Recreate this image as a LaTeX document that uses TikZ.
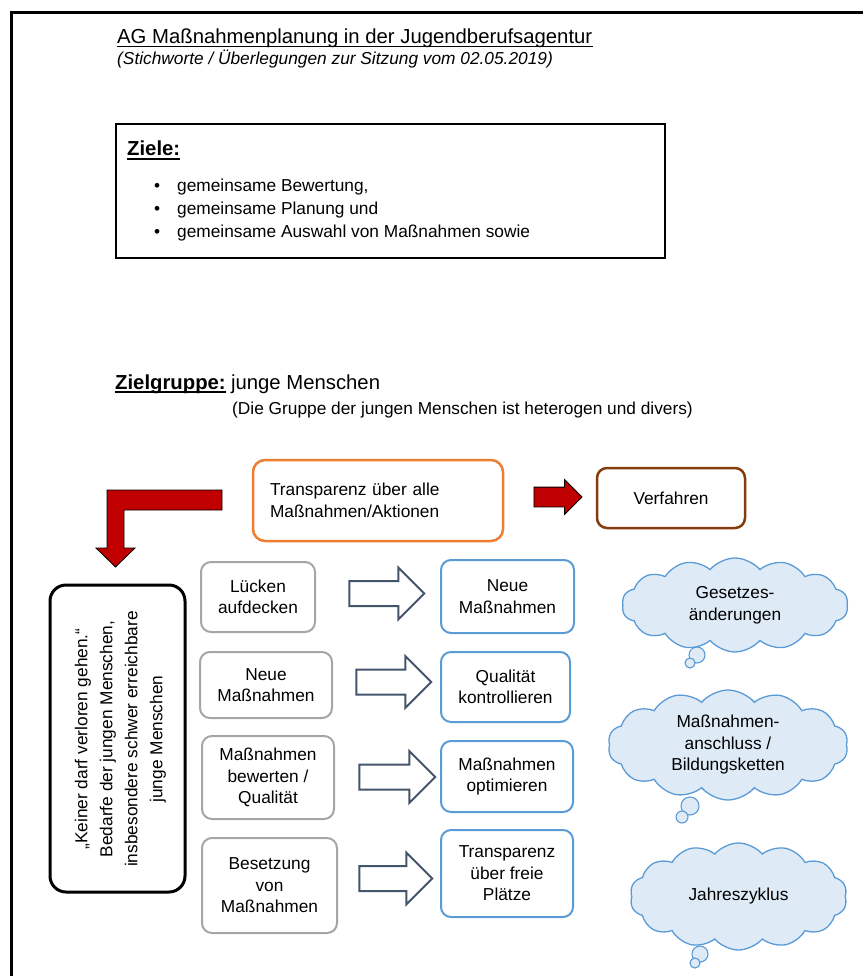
\documentclass[tikz,border=0pt]{standalone}
\usepackage{fontspec}
\setmainfont{Liberation Sans}
\usetikzlibrary{shapes.arrows,shapes.symbols,calc}

\definecolor{orangeline}{RGB}{237,125,49}
\definecolor{brownline}{RGB}{133,60,12}
\definecolor{greyline}{RGB}{165,165,165}
\definecolor{blueline}{RGB}{91,155,213}
\definecolor{cloudfill}{RGB}{222,235,247}
\definecolor{arrowred}{RGB}{192,0,0}
\definecolor{slate}{RGB}{68,84,106}

\newcommand{\txt}{\fontsize{17.3}{21.5}\selectfont}
\newcommand{\bigtxt}{\fontsize{20.3}{24}\selectfont}

\begin{document}
\begin{tikzpicture}[x=1pt, y=-1pt, every node/.style={inner sep=0pt, font=\txt},
    box/.style={draw, rounded corners=10pt, align=center, line width=2pt},
    greybox/.style={box, draw=greyline},
    bluebox/.style={box, draw=blueline},
    hollow/.style={single arrow, draw=slate, fill=white, line width=2pt, inner xsep=0pt, inner ysep=11.5pt,
        single arrow head extend=13.5pt, single arrow tip angle=90, minimum height=75pt},
    redarrow/.style={single arrow, draw=black, fill=arrowred, line width=0.8pt, inner xsep=0pt, inner ysep=9.5pt,
        single arrow head extend=7.5pt, single arrow tip angle=90, minimum height=48pt},
    thought/.style={cloud, cloud puffs=14, cloud puff arc=100, cloud ignores aspect, draw=blueline,
        fill=cloudfill, line width=1.3pt, align=center},
    bubble/.style={draw=blueline, fill=cloudfill, line width=1.1pt}]
    \useasboundingbox (0,0) rectangle (863,976);

    % 1. Rahmen
    \draw[line width=3pt] (863,12.5) -- (11.3,12.5) -- (11.3,976);

    % 2. Kopf
    \node[anchor=base west, font=\bigtxt] (title) at (117,44) {AG Maßnahmenplanung in der Jugendberufsagentur};
    \draw[line width=1.2pt] ($(title.base west)+(0,2.5)$) -- ($(title.base east)+(0,2.5)$);
    \node[anchor=base west, font=\txt\itshape] (sub) at (117,65) {(Stichworte / Überlegungen zur Sitzung vom 02.05.2019)};

    % 3. Ziele
    \node[draw, line width=1.3pt, minimum width=549pt, minimum height=134pt] (zielbox) at (390.5,191) {};
    \node[anchor=base west, font=\bigtxt\bfseries] (ziele) at (127,156) {Ziele:};
    \draw[line width=2pt] ($(ziele.base west)+(0,3)$) -- ($(ziele.base east)+(0,3)$);
    \node[anchor=base west] (z1) at (154,192) {\makebox[23pt][l]{\textbullet}gemeinsame Bewertung,};
    \node[anchor=base west] (z2) at (154,214.5) {\makebox[23pt][l]{\textbullet}gemeinsame Planung und};
    \node[anchor=base west] (z3) at (154,237) {\makebox[23pt][l]{\textbullet}gemeinsame Auswahl von Maßnahmen sowie};

    % 4. Zielgruppe
    \node[anchor=base west, font=\bigtxt\bfseries] (zg) at (115,389) {Zielgruppe:};
    \draw[line width=2pt] ($(zg.base west)+(0,3)$) -- ($(zg.base east)+(0,3)$);
    \node[anchor=base west, font=\bigtxt] (zgtext) at ($(zg.base east)+(5,0)$) {junge Menschen};
    \node[anchor=base west] (zgnote) at (232,414) {(Die Gruppe der jungen Menschen ist heterogen und divers)};

    % 5. Transparenz, Verfahren
    \node[box, draw=orangeline, line width=2.5pt, rounded corners=12pt, align=left, text width=216pt,
        inner xsep=17pt, minimum height=81pt] (trans) at (378,500.5) {Transparenz über alle\\Maßnahmen/Aktionen};
    \node[redarrow] (rarr) at (553,497) {};
    \node[box, draw=brownline, line width=2.5pt, minimum width=148pt, minimum height=60pt] (verf) at (671,498) {Verfahren};

    % 6. gebogener Pfeil
    \coordinate (bendA) at (222,490);
    \coordinate (bendB) at (107,490);
    \coordinate (bendC) at (124,510);
    \coordinate (bendTip) at (115.5,567);
    \draw[fill=arrowred, line width=0.8pt] (bendA) -- (bendB) -- (bendB |- 0,548) -- (96,548) -- (bendTip)
        -- (135,548) -- (bendC |- 0,548) -- (bendC) -- (bendA |- bendC) -- cycle;

    % 7. Leitsatz
    \node[draw, line width=3pt, rounded corners=16pt, minimum width=135pt, minimum height=307pt] (kb) at (117.5,738.5) {};
    \node[rotate=90, align=center, font=\fontsize{17.3}{25}\selectfont] (kbtext) at (120.5,739)
        {„Keiner darf verloren gehen.“\\Bedarfe der jungen Menschen,\\insbesondere schwer erreichbare\\junge Menschen};

    % 8. Zeilen
    \node[greybox, minimum width=114pt, minimum height=70pt] (g1) at (258,597) {Lücken\\aufdecken};
    \node[hollow] (p1) at (380.5,593.5) {};
    \node[bluebox, minimum width=133pt, minimum height=73pt] (b1) at (507.5,596.5) {Neue\\Maßnahmen};

    \node[greybox, minimum width=132pt, minimum height=66pt] (g2) at (266,685) {Neue\\Maßnahmen};
    \node[hollow] (p2) at (387.5,682) {};
    \node[bluebox, minimum width=129pt, minimum height=70pt] (b2) at (505.5,687) {Qualität\\kontrollieren};

    \node[greybox, minimum width=132pt, minimum height=83pt] (g3) at (268,777.5) {Maßnahmen\\bewerten /\\Qualität};
    \node[hollow, minimum height=76pt] (p3) at (391,777) {};
    \node[bluebox, minimum width=132pt, minimum height=71pt] (b3) at (507,776.5) {Maßnahmen\\optimieren};

    \node[greybox, minimum width=135pt, minimum height=95pt] (g4) at (269.5,885.5) {Besetzung\\von\\Maßnahmen};
    \node[hollow, minimum height=73pt] (p4) at (389.5,878.5) {};
    \node[bluebox, minimum width=132pt, minimum height=87pt] (b4) at (507,873.5) {Transparenz\\über freie\\Plätze};

    % 9. Wolken
    \node[thought, minimum width=226pt, minimum height=94pt] (c1) at (735,605) {Gesetzes-\\änderungen};
    \draw[bubble] (697,655) circle[radius=8];
    \draw[bubble] (690,663) circle[radius=5];
    \node[thought, minimum width=240pt, minimum height=110pt] (c2) at (728,745) {Maßnahmen-\\anschluss /\\Bildungsketten};
    \draw[bubble] (690,806) circle[radius=9];
    \draw[bubble] (682,817) circle[radius=6];
    \node[thought, minimum width=217pt, minimum height=107pt] (c3) at (738.5,896.5) {Jahreszyklus};
    \draw[bubble] (700,954) circle[radius=8];
    \draw[bubble] (695,963) circle[radius=5];
\end{tikzpicture}
\end{document}
